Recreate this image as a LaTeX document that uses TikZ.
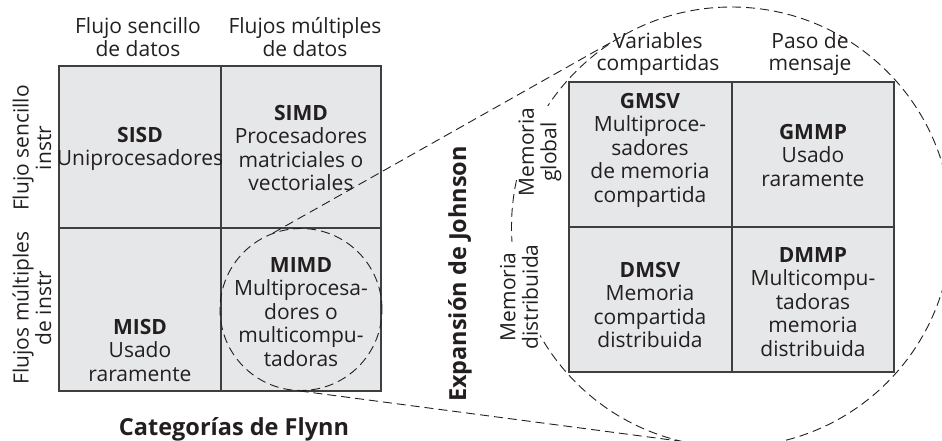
\documentclass[tikz,border=0pt]{standalone}
\usepackage{fontspec}
\setmainfont{Open Sans}
\definecolor{cellgray}{HTML}{E6E7E8}
\definecolor{rulegray}{HTML}{3F3F3F}
\definecolor{inkblack}{HTML}{231F20}
\tikzset{
  gridrule/.style={draw=rulegray,line width=1.4pt},
  celltext/.style={align=center,text=inkblack,inner sep=0pt,
    font=\fontsize{21}{23.5}\selectfont},
  headtext/.style={align=center,text=inkblack,inner sep=0pt,
    font=\fontsize{21}{22.5}\selectfont},
  sidetext/.style={headtext,rotate=90},
  masktext/.style={sidetext,fill=white,inner sep=2pt},
  titletext/.style={text=inkblack,inner sep=0pt,font=\bfseries\fontsize{23.5}{26}\selectfont},
  zoomring/.style={circle,draw=inkblack,line width=0.9pt,dash pattern=on 9pt off 5pt,inner sep=0pt},
  zoomline/.style={draw=inkblack,line width=0.9pt,dash pattern=on 9pt off 5pt}
}
\begin{document}
\begin{tikzpicture}[x=1pt,y=-1pt]
  \clip (0,0) rectangle (942,441);
  % anillo de la expansion de Johnson
  \node[zoomring,minimum size=440pt] (johnring) at (731.5,227) {};
  % rejillas
  \fill[cellgray] (59,66) rectangle (381,391);
  \fill[cellgray] (569,82) rectangle (894,372);
  \draw[gridrule] (59,66) rectangle (381,391) (221,66)--(221,391) (59,228)--(381,228);
  \draw[gridrule] (569,82) rectangle (894,372) (732,82)--(732,372) (569,227)--(894,227);
  \node[zoomring,minimum size=162pt] (mimdring) at (301,309.5) {};
  \draw[zoomline] (mimdring.110) -- (johnring.123);
  \draw[zoomline] (mimdring.269) -- (johnring.256);
  % categorias de Flynn
  \node[headtext] (sdhead) at (138,37) {Flujo sencillo\\de datos};
  \node[headtext] (mdhead) at (305,37) {Flujos múltiples\\de datos};
  \node[sidetext] (sihead) at (32,148) {Flujo sencillo\\instr};
  \node[sidetext] (mihead) at (32,308) {Flujos múltiples\\de instr};
  \node[celltext] (sisd) at (140,149) {\textbf{SISD}\\Uniprocesadores};
  \node[celltext] (simd) at (301,148) {\textbf{SIMD}\\Procesadores\\matriciales o\\vectoriales};
  \node[celltext] (misd) at (140,350) {\textbf{MISD}\\Usado\\raramente};
  \node[celltext] (mimd) at (301,312) {\textbf{MIMD}\\Multiprocesa-\\dores o\\multicompu-\\tadoras};
  \node[titletext] (flynn) at (234,429) {Categorías de Flynn};
  % expansion de Johnson
  \node[titletext,rotate=90] (johnson) at (460,274) {Expansión de Johnson};
  \node[headtext] (svhead) at (658,54) {Variables\\compartidas};
  \node[headtext] (mphead) at (810,54) {Paso de\\mensaje};
  \node[masktext] (gmhead) at (540,152) {Memoria\\global};
  \node[masktext] (dmhead) at (519,297) {Memoria\\distribuida};
  \node[celltext] (gmsv) at (650,150) {\textbf{GMSV}\\Multiproce-\\sadores\\de memoria\\compartida};
  \node[celltext] (gmmp) at (813,155) {\textbf{GMMP}\\Usado\\raramente};
  \node[celltext] (dmsv) at (650,305) {\textbf{DMSV}\\Memoria\\compartida\\distribuida};
  \node[celltext] (dmmp) at (813,302) {\textbf{DMMP}\\Multicompu-\\tadoras\\memoria\\distribuida};
\end{tikzpicture}
\end{document}
